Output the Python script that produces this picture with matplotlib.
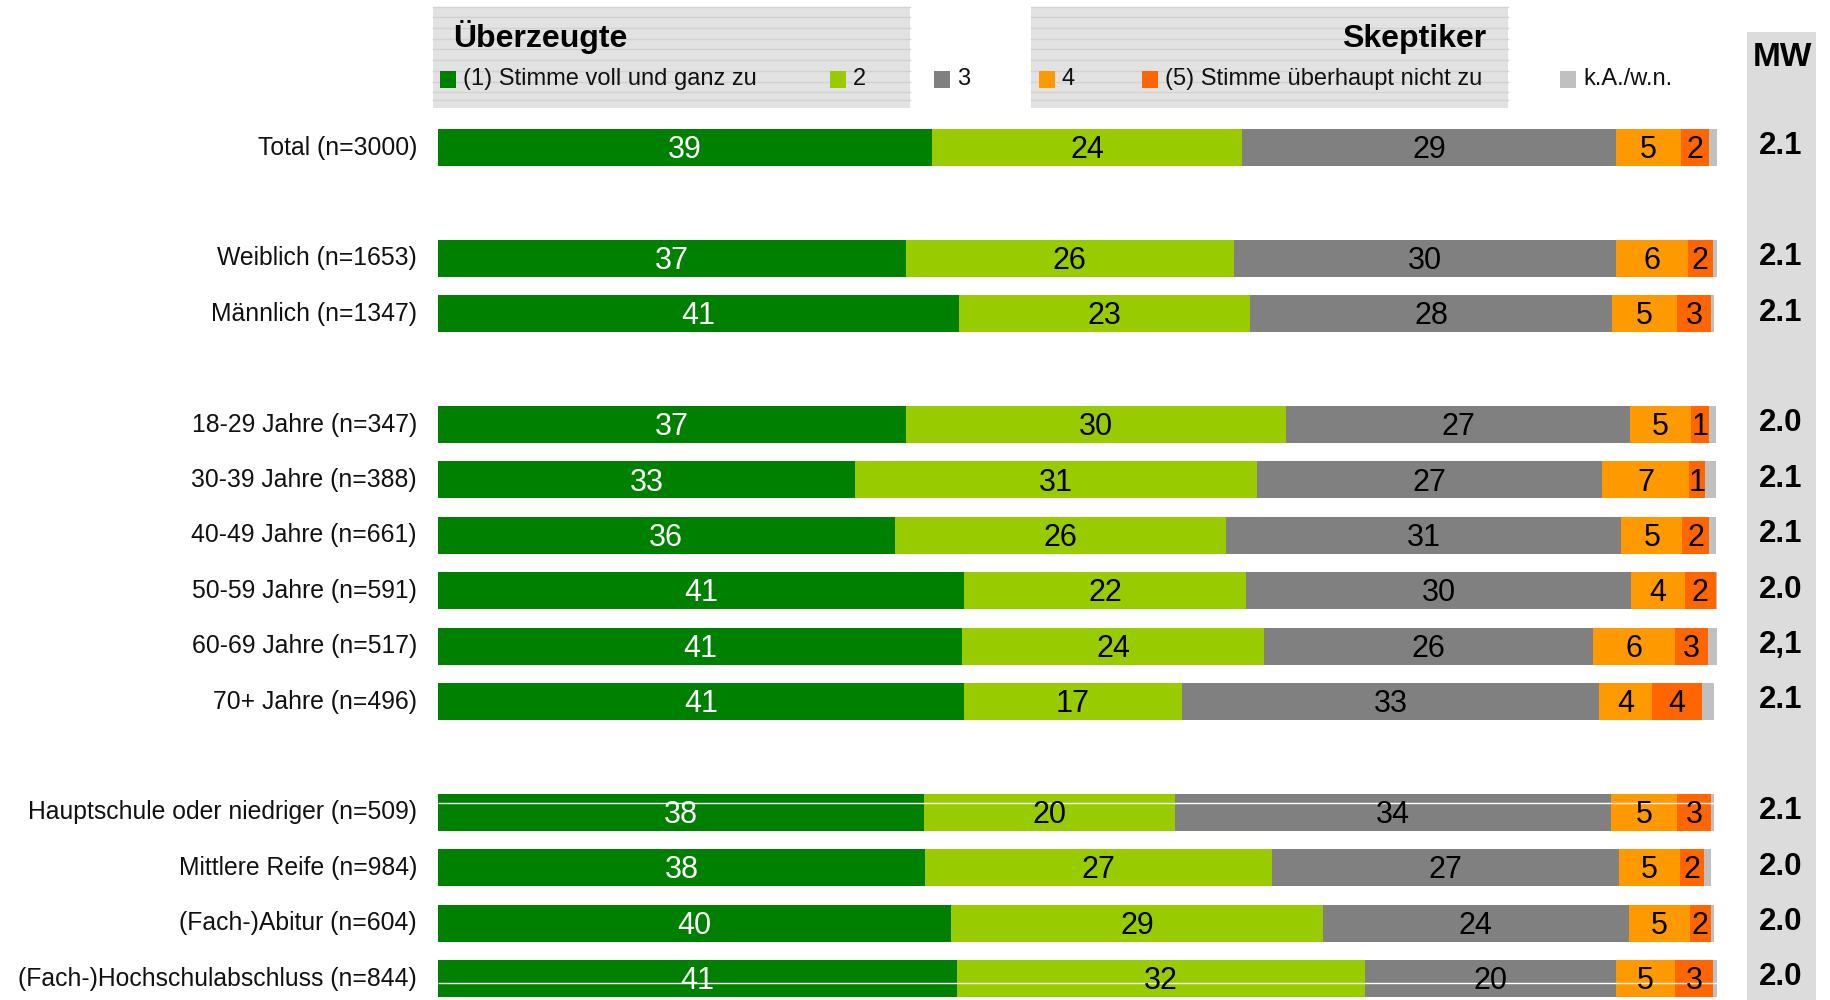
import matplotlib
matplotlib.use("Agg")
import matplotlib.pyplot as plt
from matplotlib.patches import Rectangle

plt.rcParams['font.family'] = ['Liberation Sans', 'DejaVu Sans']

# rows of the chart
groups = ["Total (n=3000)",
          "Weiblich (n=1653)", "Männlich (n=1347)",
          "18-29 Jahre (n=347)", "30-39 Jahre (n=388)", "40-49 Jahre (n=661)",
          "50-59 Jahre (n=591)", "60-69 Jahre (n=517)", "70+ Jahre (n=496)",
          "Hauptschule oder niedriger (n=509)", "Mittlere Reife (n=984)",
          "(Fach-)Abitur (n=604)", "(Fach-)Hochschulabschluss (n=844)"]
row_pos = [0, 2, 3, 5, 6, 7, 8, 9, 10, 12, 13, 14, 15]

# shares in percent, one list per answer
s1 = [38.6, 36.6, 40.7, 36.6, 32.6, 35.7, 41.1, 41.0, 41.1, 38.0, 38.1, 40.1, 40.6]
s2 = [24.3, 25.6, 22.8, 29.7, 31.4, 25.9, 22.1, 23.6, 17.1, 19.6, 27.1, 29.1, 31.9]
s3 = [29.2, 29.9, 28.3, 26.9, 27.0, 30.9, 30.1, 25.7, 32.6, 34.1, 27.1, 23.9, 19.6]
s4 = [5.1, 5.6, 5.1, 4.8, 6.8, 4.8, 4.2, 6.4, 4.1, 5.2, 4.8, 4.8, 4.6]
s5 = [2.2, 2.0, 2.6, 1.4, 1.3, 2.1, 2.4, 2.6, 3.9, 2.6, 1.9, 1.6, 3.0]
ska = [0.6, 0.4, 0.3, 0.5, 0.8, 0.5, 0.2, 0.7, 1.0, 0.3, 0.5, 0.3, 0.3]

mw = ["2.1", "2.1", "2.1", "2.0", "2.1", "2.1", "2.0", "2,1", "2.1",
      "2.1", "2.0", "2.0", "2.0"]

series = [s1, s2, s3, s4, s5, ska]
legend_labels = ["(1) Stimme voll und ganz zu", "2", "3", "4",
                 "(5) Stimme überhaupt nicht zu", "k.A./w.n."]
colors = ["#008000", "#99CC00", "#808080", "#FF9900", "#FF6600", "#C0C0C0"]
text_colors = ["white", "black", "black", "black", "black", None]

W, H = 1830, 1000
fig = plt.figure(figsize=(W / 100, H / 100), dpi=100)

def fx(x):
    return x / W

def fy(y):
    return 1 - y / H

# bar axes: 0..100 % spans pixel 438..1717, rows 55.4 px apart
ax = fig.add_axes([fx(438), 0, 1279 / W, 1])
ax.set_xlim(0, 100)
ax.set_ylim((H - 147.5) / 55.4, -147.5 / 55.4)
ax.axis("off")
ax.set_zorder(2)

left = [0.0] * len(groups)
for vals, col, tcol in zip(series, colors, text_colors):
    ax.barh(row_pos, vals, left=left, height=0.67, color=col, linewidth=0)
    if tcol:
        for y, l, v in zip(row_pos, left, vals):
            ax.text(l + v / 2, y + 0.05, str(int(v + 0.5)), ha="center",
                    va="center", fontsize=22, color=tcol)
    left = [a + b for a, b in zip(left, vals)]

# thin white artefact lines crossing two bars
ax.hlines([row_pos[9] - 0.17, row_pos[12] + 0.08], 0, [left[9], left[12]],
          color="white", linewidth=1)

for y, g in zip(row_pos, groups):
    ax.text(-1.65, y, g, ha="right", va="center", fontsize=17.8, color="#111111")

# MW column
fig.patches.append(Rectangle((fx(1747), 0), 69 / W, fy(32), transform=fig.transFigure,
                             facecolor="#DCDCDC", edgecolor="none", zorder=0))
fig.text(fx(1782), fy(57), "MW", ha="center", va="center", fontsize=24,
         fontweight="bold", zorder=3)
for y, m in zip(row_pos, mw):
    ax.text(105.0, y - 0.02, m, ha="center", va="center", fontsize=22.5,
            fontweight="bold")

# legend boxes with striped background
for x0, x1 in [(432.6, 910), (1030.6, 1508)]:
    fig.patches.append(Rectangle((fx(x0), fy(108)), (x1 - x0) / W, 101 / H,
                                 transform=fig.transFigure, facecolor="#E2E2E2",
                                 edgecolor="none", zorder=0))
    for sy in [7, 17, 28, 39, 49, 60, 71, 82, 92, 100]:
        fig.add_artist(plt.Line2D([fx(x0), fx(x1)], [fy(sy), fy(sy)],
                                  transform=fig.transFigure, color="#D2D2D2",
                                  linewidth=1, zorder=0.5))

fig.text(fx(453), fy(47), "Überzeugte", ha="left", va="baseline", fontsize=23,
         fontweight="bold", zorder=3)
fig.text(fx(1486), fy(47), "Skeptiker", ha="right", va="baseline", fontsize=23,
         fontweight="bold", zorder=3)

sq_x = [440, 830, 934, 1039, 1142, 1560]
for sx, lab, col in zip(sq_x, legend_labels, colors):
    fig.patches.append(Rectangle((fx(sx), fy(88)), 16 / W, 17 / H,
                                 transform=fig.transFigure, facecolor=col,
                                 edgecolor="none", zorder=2))
    fig.text(fx(sx + 23), fy(79), lab, ha="left", va="center", fontsize=17,
             color="#111111", zorder=3)

fig.savefig("out.png", dpi=100)
